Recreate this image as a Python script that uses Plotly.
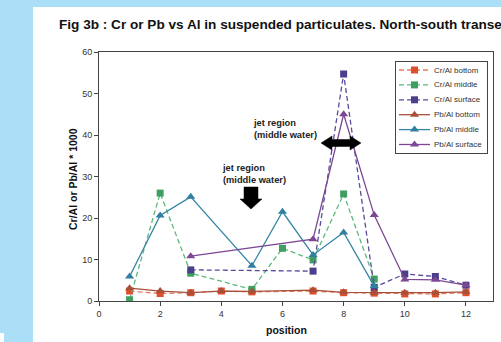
import plotly.graph_objects as go

# ---------------- data ----------------
positions = [1, 2, 3, 4, 5, 6, 7, 8, 9, 10, 11, 12]
cr_bottom  = [2.4, 1.8, 2.0, 2.4, 2.2, None, 2.4, 2.0, 1.9, 1.7, 1.7, 2.0]
cr_middle  = [0.3, 26.0, 6.7, None, 2.8, 12.7, 9.9, 25.8, 5.3, None, None, None]
cr_surface = [None, None, 7.5, None, None, None, 7.2, 54.7, 3.3, 6.5, 5.9, 3.8]
pb_bottom  = [3.1, 2.4, 2.0, 2.4, 2.3, None, 2.6, 2.1, 2.0, 2.0, 2.0, 2.2]
pb_middle  = [5.9, 20.6, 25.1, None, 8.5, 21.5, 11.1, 16.5, 3.6, None, None, None]
pb_surface = [None, None, 10.8, None, None, None, 14.9, 45.0, 20.7, 5.2, 5.1, 3.8]

series_names = ["Cr/Al bottom", "Cr/Al middle", "Cr/Al surface",
                "Pb/Al bottom", "Pb/Al middle", "Pb/Al surface"]
series_values = [cr_bottom, cr_middle, cr_surface, pb_bottom, pb_middle, pb_surface]
x_ticks = [0, 2, 4, 6, 8, 10, 12]
y_ticks = [0, 10, 20, 30, 40, 50, 60]

# ---------------- styles ----------------
line_colors   = ["#e97a62", "#5cb87c", "#574c9c", "#a94f38", "#3585a5", "#7d4794"]
marker_colors = ["#dc4f2c", "#3f9f62", "#4a3f8c", "#a94f38", "#2f7f9e", "#7d4794"]
symbols = ["square", "square", "square", "triangle-up", "triangle-up", "triangle-up"]
dashes  = ["5px,3px", "5px,3px", "5px,3px", "solid", "solid", "solid"]
FONT = "Liberation Sans, Arial, sans-serif"
BLUE = "#abdff8"

W, H = 501, 342
L, R, T, B = 99, 493, 52, 301    # plot area in pixels
XMAX = (R - L) / 30.58


def px2x(px):
    return (px - L) / 30.58


def px2y(py):
    return (B - py) / ((B - T) / 60.0)


def pxp_x(px):
    return (px - L) / (R - L)


def pxp_y(py):
    return (B - py) / (B - T)


fig = go.Figure()
for name, vals, lc, mc, sym, dsh in zip(series_names, series_values, line_colors,
                                        marker_colors, symbols, dashes):
    fig.add_trace(go.Scatter(
        x=positions, y=vals, name=name, mode="lines+markers", connectgaps=True,
        line=dict(color=lc, width=1.3, dash=dsh),
        marker=dict(symbol=sym, color=mc, size=7 if sym == "square" else 8,
                    line=dict(width=0)),
        showlegend=False, xaxis="x", yaxis="y"))

# ---------------- manual legend (overlay axes) ----------------
LEG_L, LEG_R, LEG_T, LEG_B = 396, 487, 62, 153
row_y = [70 + 14.9 * i for i in range(6)]
for i, (name, lc, mc, sym, dsh) in enumerate(zip(series_names, line_colors,
                                                  marker_colors, symbols, dashes)):
    fig.add_trace(go.Scatter(
        x=[399, 414.5, 430], y=[row_y[i]] * 3, mode="lines", showlegend=False,
        line=dict(color=lc, width=1.3, dash=dsh), hoverinfo="skip",
        xaxis="x2", yaxis="y2"))
    fig.add_trace(go.Scatter(
        x=[414.5], y=[row_y[i]], mode="markers", showlegend=False,
        marker=dict(symbol=sym, color=mc, size=7 if sym == "square" else 8,
                    line=dict(width=0)), hoverinfo="skip",
        xaxis="x2", yaxis="y2"))
    fig.add_annotation(x=432, y=row_y[i], xref="x2", yref="y2", text=name,
                       showarrow=False, xanchor="left", yanchor="middle",
                       font=dict(family=FONT, size=8, color="#333333"))

# ---------------- background shapes ----------------
fig.add_shape(type="rect", xref="paper", yref="paper", layer="below",
              x0=pxp_x(33), x1=pxp_x(W + 5), y0=pxp_y(H + 5), y1=pxp_y(7),
              fillcolor="white", line=dict(width=0))
fig.add_shape(type="rect", xref="paper", yref="paper", layer="below",
              x0=pxp_x(-2), x1=pxp_x(4), y0=pxp_y(H + 5), y1=pxp_y(333),
              fillcolor="white", line=dict(width=0))

# ---------------- arrows ----------------
def path(points):
    return "M " + " L ".join(f"{px2x(a):.4f},{px2y(b):.4f}" for a, b in points) + " Z"

down_arrow = [(244, 187), (258, 187), (258, 199), (262, 199), (251, 209),
              (240, 199), (244, 199)]
double_arrow = [(321, 143), (332, 136), (332, 139.5), (350, 139.5), (350, 136),
                (361, 143), (350, 150), (350, 146.5), (332, 146.5), (332, 150)]
for pts in (down_arrow, double_arrow):
    fig.add_shape(type="path", xref="x", yref="y", path=path(pts),
                  fillcolor="black", line=dict(color="black", width=0.5))

# ---------------- text annotations ----------------
for (tx, ty) in [(251, 116), (220, 161)]:
    fig.add_annotation(x=pxp_x(tx), y=pxp_y(ty), xref="paper", yref="paper",
                       text="<b>jet region<br>(middle water)</b>", showarrow=False,
                       xanchor="left", yanchor="top", align="left",
                       font=dict(family=FONT, size=9.3, color="#222222"))

fig.add_annotation(x=pxp_x(57), y=pxp_y(25), xref="paper", yref="paper",
                   text="<b>Fig 3b : Cr or Pb vs Al in suspended particulates. North-south transect</b>",
                   showarrow=False, xanchor="left", yanchor="middle",
                   font=dict(family=FONT, size=13.6, color="#111111"))
fig.add_annotation(x=pxp_x(73), y=0.49, xref="paper", yref="paper",
                   text="<b>Cr/Al or Pb/Al * 1000</b>", textangle=-90,
                   showarrow=False, xanchor="center", yanchor="middle",
                   font=dict(family=FONT, size=10.5, color="#111111"))
fig.add_annotation(x=pxp_x(286), y=pxp_y(330), xref="paper", yref="paper",
                   text="<b>position</b>", showarrow=False,
                   xanchor="center", yanchor="middle",
                   font=dict(family=FONT, size=10.5, color="#111111"))

fig.update_layout(
    width=W, height=H,
    margin=dict(l=L, r=W - R, t=T, b=H - B, pad=0),
    paper_bgcolor=BLUE,
    plot_bgcolor="rgba(0,0,0,0)",
    showlegend=False,
    xaxis=dict(range=[0, XMAX], tickvals=x_ticks, ticks="outside", ticklen=4,
               tickcolor="#444", showline=True, linecolor="#444", linewidth=1,
               mirror=True, showgrid=False, zeroline=False,
               tickfont=dict(family=FONT, size=9, color="#333333")),
    yaxis=dict(range=[0, 60], tickvals=y_ticks, ticks="outside", ticklen=4,
               tickcolor="#444", showline=True, linecolor="#444", linewidth=1,
               mirror=True, showgrid=False, zeroline=False,
               tickfont=dict(family=FONT, size=9, color="#333333")),
    xaxis2=dict(domain=[pxp_x(LEG_L), pxp_x(LEG_R)], range=[LEG_L, LEG_R],
                anchor="y2", showline=True, mirror=True, linecolor="#444",
                linewidth=1, showgrid=False, zeroline=False,
                showticklabels=False, ticks=""),
    yaxis2=dict(domain=[pxp_y(LEG_B), pxp_y(LEG_T)], range=[LEG_B, LEG_T],
                anchor="x2", showline=True, mirror=True, linecolor="#444",
                linewidth=1, showgrid=False, zeroline=False,
                showticklabels=False, ticks=""),
)

# remove the default 8px page margin so the figure sits at the window's corner
fig.write_html("out.html",
               config={"displayModeBar": False},
               post_script="document.body.style.margin='0';"
                           "document.body.style.overflow='hidden';")
